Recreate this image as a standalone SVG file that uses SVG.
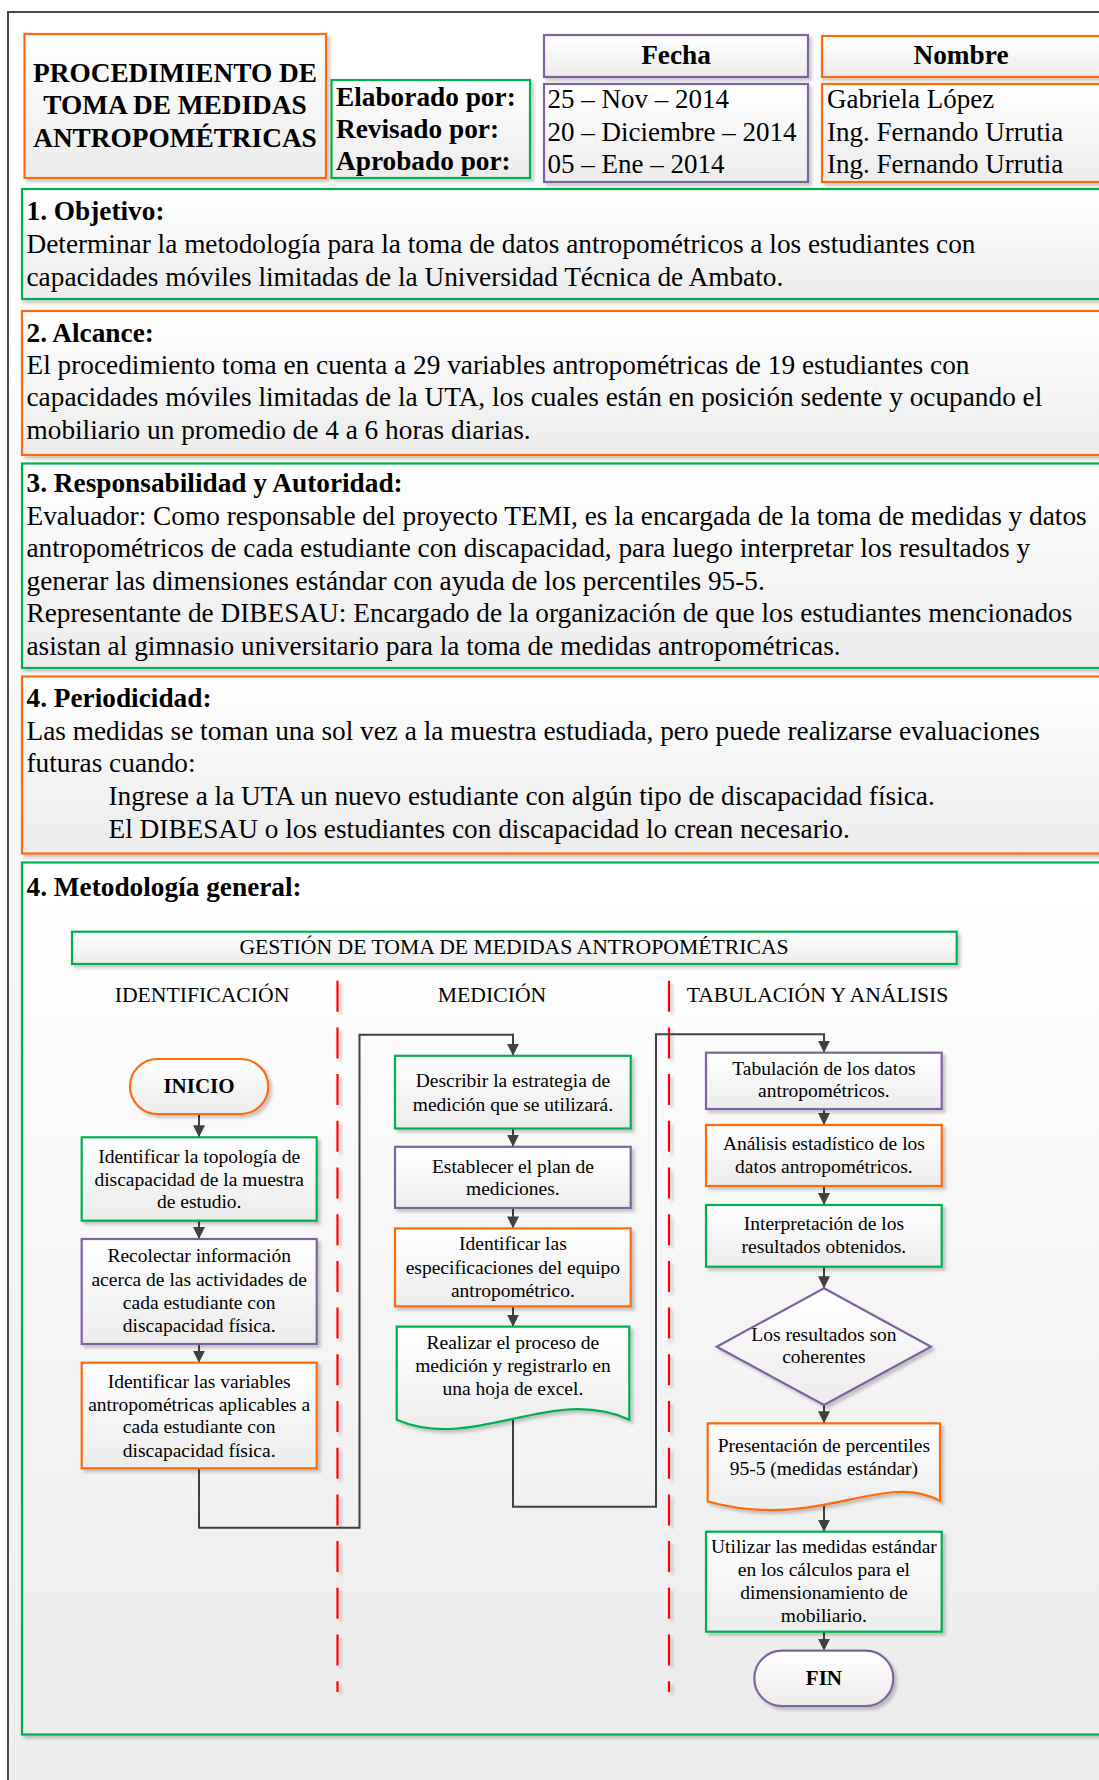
<svg xmlns="http://www.w3.org/2000/svg" width="1099" height="1780" viewBox="0 0 1099 1780">
  <defs>
    <linearGradient id="pageFill" gradientUnits="userSpaceOnUse" x1="0" y1="0" x2="0" y2="1780">
      <stop offset="0" stop-color="#ffffff"/>
      <stop offset="1" stop-color="#eeeeee"/>
    </linearGradient>
    <linearGradient id="boxFill" x1="0" y1="0" x2="0" y2="1">
      <stop offset="0" stop-color="#ffffff"/>
      <stop offset="1" stop-color="#ececec"/>
    </linearGradient>
    <filter id="shadow" x="-5%" y="-5%" width="112%" height="125%">
      <feDropShadow dx="3" dy="3" stdDeviation="1.4" flood-color="#000000" flood-opacity="0.2"/>
    </filter>
    <marker id="arrow" viewBox="0 0 12 12" refX="12" refY="6" markerWidth="12" markerHeight="12" markerUnits="userSpaceOnUse" orient="auto">
      <path d="M0,0 L12,6 L0,12 z" fill="#404040"/>
    </marker>
  </defs>
  <style>
    text { font-family: "Liberation Serif", "Times New Roman", serif; fill: #000000; }
    .hdr { font-size: 27.3px; font-weight: bold; }
    .hdrTxt { font-size: 27px; }
    .sec { font-size: 27.3px; }
    .secTitle { font-size: 27.3px; font-weight: bold; }
    .lane { font-size: 21.7px; text-anchor: middle; }
    .step { font-size: 19.5px; text-anchor: middle; }
    .term { font-size: 21px; font-weight: bold; text-anchor: middle; }
    .box { fill: url(#boxFill); stroke-width: 2.2; filter: url(#shadow); }
    .orange { stroke: #FF6A10; }
    .green { stroke: #00B050; }
    .purple { stroke: #7F63A1; }
    .divider { fill: none; stroke: #FF0000; stroke-width: 2.2; stroke-dasharray: 31 15.7; }
    .conn { fill: none; stroke: #404040; stroke-width: 2; }
  </style>

  <!-- page frame -->
  <rect x="8" y="12" width="1200" height="1800" fill="url(#pageFill)" stroke="#4a4a4a" stroke-width="2"/>

  <!-- header block -->
  <g id="title">
    <rect class="box orange" x="24.5" y="34" width="301.5" height="144"/>
    <text class="hdr" x="175" y="81.5" text-anchor="middle">PROCEDIMIENTO DE</text>
    <text class="hdr" x="175" y="114" text-anchor="middle">TOMA DE MEDIDAS</text>
    <text class="hdr" x="175" y="146.5" text-anchor="middle">ANTROPOMÉTRICAS</text>
  </g>
  <g id="roles">
    <rect class="box green" x="331.5" y="80" width="198.5" height="98"/>
    <text class="hdr" x="336" y="106">Elaborado por:</text>
    <text class="hdr" x="336" y="138">Revisado por:</text>
    <text class="hdr" x="336" y="169.5">Aprobado por:</text>
  </g>
  <g id="fecha-header">
    <rect class="box purple" x="544" y="35" width="264" height="42"/>
    <text class="hdr" x="676" y="63.5" text-anchor="middle">Fecha</text>
  </g>
  <g id="fecha-values">
    <rect class="box purple" x="544" y="84" width="264" height="98"/>
    <text class="hdrTxt" x="547.5" y="108.3">25 – Nov – 2014</text>
    <text class="hdrTxt" x="547.5" y="140.5">20 – Diciembre – 2014</text>
    <text class="hdrTxt" x="547.5" y="173">05 – Ene – 2014</text>
  </g>
  <g id="nombre-header">
    <rect class="box orange" x="822" y="36" width="290" height="41"/>
    <text class="hdr" x="961" y="64" text-anchor="middle">Nombre</text>
  </g>
  <g id="nombre-values">
    <rect class="box orange" x="822" y="84" width="290" height="98"/>
    <text class="hdrTxt" x="827" y="108.3">Gabriela López</text>
    <text class="hdrTxt" x="827" y="140.5">Ing. Fernando Urrutia</text>
    <text class="hdrTxt" x="827" y="173">Ing. Fernando Urrutia</text>
  </g>

  <!-- text sections -->
  <g id="objetivo">
    <rect class="box green" x="22" y="189" width="1090" height="110"/>
    <text class="secTitle" x="26.5" y="219.5">1. Objetivo:</text>
    <text class="sec" x="26.5" y="252.5">Determinar la metodología para la toma de datos antropométricos a los estudiantes con</text>
    <text class="sec" x="26.5" y="285.5">capacidades móviles limitadas de la Universidad Técnica de Ambato.</text>
  </g>
  <g id="alcance">
    <rect class="box orange" x="22" y="311" width="1090" height="144"/>
    <text class="secTitle" x="26.5" y="341.5">2. Alcance:</text>
    <text class="sec" x="26.5" y="373.5">El procedimiento toma en cuenta a 29 variables antropométricas de 19 estudiantes con</text>
    <text class="sec" x="26.5" y="406">capacidades móviles limitadas de la UTA, los cuales están en posición sedente y ocupando el</text>
    <text class="sec" x="26.5" y="439">mobiliario un promedio de 4 a 6 horas diarias.</text>
  </g>
  <g id="responsabilidad">
    <rect class="box green" x="22" y="463.5" width="1090" height="204.5"/>
    <text class="secTitle" x="26.5" y="492">3. Responsabilidad y Autoridad:</text>
    <text class="sec" x="26.5" y="524.5">Evaluador: Como responsable del proyecto TEMI, es la encargada de la toma de medidas y datos</text>
    <text class="sec" x="26.5" y="557">antropométricos de cada estudiante con discapacidad, para luego interpretar los resultados y</text>
    <text class="sec" x="26.5" y="589.5">generar las dimensiones estándar con ayuda de los percentiles 95-5.</text>
    <text class="sec" x="26.5" y="622">Representante de DIBESAU: Encargado de la organización de que los estudiantes mencionados</text>
    <text class="sec" x="26.5" y="654.5">asistan al gimnasio universitario para la toma de medidas antropométricas.</text>
  </g>
  <g id="periodicidad">
    <rect class="box orange" x="22" y="676.5" width="1090" height="177"/>
    <text class="secTitle" x="26.5" y="707">4. Periodicidad:</text>
    <text class="sec" x="26.5" y="740">Las medidas se toman una sol vez a la muestra estudiada, pero puede realizarse evaluaciones</text>
    <text class="sec" x="26.5" y="772">futuras cuando:</text>
    <text class="sec" x="108.5" y="805">Ingrese a la UTA un nuevo estudiante con algún tipo de discapacidad física.</text>
    <text class="sec" x="108.5" y="837.5">El DIBESAU o los estudiantes con discapacidad lo crean necesario.</text>
  </g>
  <g id="metodologia">
    <rect class="box green" x="22" y="862.5" width="1090" height="872"/>
    <text class="secTitle" x="26.5" y="896">4. Metodología general:</text>
  </g>

  <!-- flowchart -->
  <g id="flow-title">
    <rect class="box green" x="72" y="931.7" width="884.7" height="32.3"/>
    <text class="lane" x="514" y="954">GESTIÓN DE TOMA DE MEDIDAS ANTROPOMÉTRICAS</text>
  </g>
  <g id="lane-headers">
    <text class="lane" x="202" y="1002">IDENTIFICACIÓN</text>
    <text class="lane" x="492" y="1002">MEDICIÓN</text>
    <text class="lane" x="817.5" y="1002">TABULACIÓN Y ANÁLISIS</text>
  </g>
  <g id="lane-dividers" filter="url(#shadow)">
    <line class="divider" x1="337.5" y1="980.7" x2="337.5" y2="1692"/>
    <line class="divider" x1="669" y1="980.7" x2="669" y2="1692"/>
  </g>

  <g id="connectors">
    <line class="conn" x1="199" y1="1114" x2="199" y2="1137.3" marker-end="url(#arrow)"/>
    <line class="conn" x1="199" y1="1220.7" x2="199" y2="1239" marker-end="url(#arrow)"/>
    <line class="conn" x1="199" y1="1344" x2="199" y2="1362.7" marker-end="url(#arrow)"/>
    <polyline class="conn" points="199,1468.3 199,1527.8 359.5,1527.8 359.5,1034.7 513,1034.7 513,1055.8" marker-end="url(#arrow)"/>
    <line class="conn" x1="513" y1="1128.5" x2="513" y2="1146.8" marker-end="url(#arrow)"/>
    <line class="conn" x1="513" y1="1208" x2="513" y2="1228.4" marker-end="url(#arrow)"/>
    <line class="conn" x1="513" y1="1306.4" x2="513" y2="1326.7" marker-end="url(#arrow)"/>
    <polyline class="conn" points="513,1419 513,1506.7 656,1506.7 656,1034.3 824,1034.3 824,1052.7" marker-end="url(#arrow)"/>
    <line class="conn" x1="824" y1="1109" x2="824" y2="1125" marker-end="url(#arrow)"/>
    <line class="conn" x1="824" y1="1186" x2="824" y2="1205" marker-end="url(#arrow)"/>
    <line class="conn" x1="824" y1="1266.7" x2="824" y2="1288.3" marker-end="url(#arrow)"/>
    <line class="conn" x1="824" y1="1405" x2="824" y2="1423.3" marker-end="url(#arrow)"/>
    <line class="conn" x1="824" y1="1500" x2="824" y2="1531.7" marker-end="url(#arrow)"/>
    <line class="conn" x1="824" y1="1631.7" x2="824" y2="1650.7" marker-end="url(#arrow)"/>
  </g>

  <!-- identification lane -->
  <g id="inicio">
    <rect class="box orange" x="130" y="1059" width="138.3" height="55" rx="27.5" ry="27.5"/>
    <text class="term" x="199" y="1093">INICIO</text>
  </g>
  <g id="id-topologia">
    <rect class="box green" x="81.7" y="1137.3" width="235" height="83.4"/>
    <text class="step" x="199.2" y="1163">Identificar la topología de</text>
    <text class="step" x="199.2" y="1185.7">discapacidad de la muestra</text>
    <text class="step" x="199.2" y="1208.4">de estudio.</text>
  </g>
  <g id="id-recolectar">
    <rect class="box purple" x="81.7" y="1239" width="235" height="105"/>
    <text class="step" x="199.2" y="1262.3">Recolectar información</text>
    <text class="step" x="199.2" y="1285.7">acerca de las actividades de</text>
    <text class="step" x="199.2" y="1309.3">cada estudiante con</text>
    <text class="step" x="199.2" y="1332.3">discapacidad física.</text>
  </g>
  <g id="id-variables">
    <rect class="box orange" x="81.7" y="1362.7" width="235" height="105.6"/>
    <text class="step" x="199.2" y="1387.7">Identificar las variables</text>
    <text class="step" x="199.2" y="1410.5">antropométricas aplicables a</text>
    <text class="step" x="199.2" y="1433.3">cada estudiante con</text>
    <text class="step" x="199.2" y="1456.5">discapacidad física.</text>
  </g>

  <!-- measurement lane -->
  <g id="med-estrategia">
    <rect class="box green" x="395" y="1055.8" width="235.7" height="72.7"/>
    <text class="step" x="512.9" y="1086.8">Describir la estrategia de</text>
    <text class="step" x="512.9" y="1110.5">medición que se utilizará.</text>
  </g>
  <g id="med-plan">
    <rect class="box purple" x="395" y="1146.8" width="235.7" height="61.2"/>
    <text class="step" x="512.9" y="1172.5">Establecer el plan de</text>
    <text class="step" x="512.9" y="1195.4">mediciones.</text>
  </g>
  <g id="med-equipo">
    <rect class="box orange" x="395" y="1228.4" width="235.7" height="78"/>
    <text class="step" x="512.9" y="1250">Identificar las</text>
    <text class="step" x="512.9" y="1274">especificaciones del equipo</text>
    <text class="step" x="512.9" y="1297">antropométrico.</text>
  </g>
  <g id="med-registro">
    <path class="box green" d="M396.7,1326.7 H629.3 V1419.7 C552,1384 474,1453 396.7,1419.7 Z"/>
    <text class="step" x="512.9" y="1348.5">Realizar el proceso de</text>
    <text class="step" x="512.9" y="1371.5">medición y registrarlo en</text>
    <text class="step" x="512.9" y="1394.8">una hoja de excel.</text>
  </g>

  <!-- tabulation lane -->
  <g id="tab-datos">
    <rect class="box purple" x="706" y="1052.7" width="235.7" height="56.3"/>
    <text class="step" x="823.9" y="1075">Tabulación de los datos</text>
    <text class="step" x="823.9" y="1096.7">antropométricos.</text>
  </g>
  <g id="tab-analisis">
    <rect class="box orange" x="706" y="1125" width="235.7" height="61"/>
    <text class="step" x="823.9" y="1150">Análisis estadístico de los</text>
    <text class="step" x="823.9" y="1172.7">datos antropométricos.</text>
  </g>
  <g id="tab-interpretacion">
    <rect class="box green" x="706" y="1205" width="235.7" height="61.7"/>
    <text class="step" x="823.9" y="1230">Interpretación de los</text>
    <text class="step" x="823.9" y="1253.3">resultados obtenidos.</text>
  </g>
  <g id="tab-coherencia">
    <polygon class="box purple" points="824,1288.3 931,1346.7 824,1405 716.7,1346.7"/>
    <text class="step" x="823.9" y="1340.7">Los resultados son</text>
    <text class="step" x="823.9" y="1363.3">coherentes</text>
  </g>
  <g id="tab-percentiles">
    <path class="box orange" d="M707.7,1423.3 H940 V1500.7 C880,1470 820,1532 707.7,1501.5 Z"/>
    <text class="step" x="823.9" y="1451.7">Presentación de percentiles</text>
    <text class="step" x="823.9" y="1475">95-5 (medidas estándar)</text>
  </g>
  <g id="tab-mobiliario">
    <rect class="box green" x="706" y="1531.7" width="235.7" height="100"/>
    <text class="step" x="823.9" y="1552.7">Utilizar las medidas estándar</text>
    <text class="step" x="823.9" y="1575.7">en los cálculos para el</text>
    <text class="step" x="823.9" y="1599.3">dimensionamiento de</text>
    <text class="step" x="823.9" y="1622.3">mobiliario.</text>
  </g>
  <g id="fin">
    <rect class="box purple" x="754.3" y="1650.7" width="139" height="55.3" rx="27.6" ry="27.6"/>
    <text class="term" x="823.9" y="1685">FIN</text>
  </g>
</svg>
